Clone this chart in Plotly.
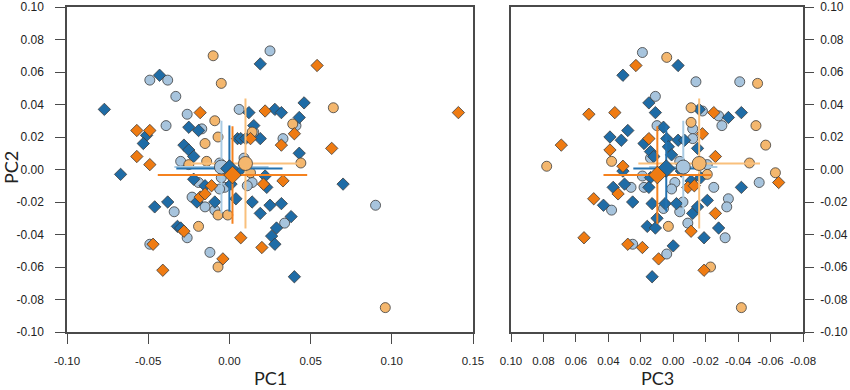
import plotly.graph_objects as go

# ---------------- data ----------------
# Left panel (PC1 vs PC2)
L_db_x = [0.019, -0.043, -0.077, 0.012, 0.015, -0.025, -0.019, -0.051, -0.053, 0.005, 0.007, 0.010, 0.019,
          -0.028, -0.025, -0.022, 0.046, 0.028, 0.032, 0.043, 0.043, -0.067, -0.022, -0.015, 0.001, 0.001,
          0.007, -0.046, -0.038, -0.020, -0.009, 0.004, 0.014, 0.019, -0.032, -0.030, 0.022, 0.023, 0.070,
          0.025, 0.032, 0.038, 0.029, 0.026, 0.028, 0.040]
L_db_y = [0.065, 0.058, 0.037, 0.035, 0.027, 0.026, 0.024, 0.021, 0.016, 0.019, 0.019, 0.019, 0.019,
          0.015, 0.012, 0.008, 0.041, 0.037, 0.035, 0.032, 0.010, -0.003, -0.006, -0.010, -0.009, -0.000,
          0.000, -0.023, -0.020, -0.020, -0.020, -0.018, -0.020, -0.027, -0.035, -0.036, -0.004, -0.011, -0.009,
          -0.022, -0.021, -0.029, -0.036, -0.041, -0.046, -0.066]
L_lb_x = [0.025, -0.049, -0.038, -0.033, 0.006, -0.026, -0.017, -0.039, 0.015, 0.033, 0.041, 0.009,
          -0.030, -0.006, -0.005, -0.019, -0.003, -0.006, 0.014, 0.011, -0.023, -0.015, -0.009, -0.034,
          -0.026, -0.049, -0.012, 0.034, 0.090]
L_lb_y = [0.073, 0.055, 0.055, 0.045, 0.037, 0.034, 0.025, 0.027, 0.023, 0.019, 0.027, 0.007,
          0.005, 0.004, -0.005, -0.008, -0.011, -0.012, -0.008, -0.010, -0.017, -0.023, -0.025, -0.026,
          -0.042, -0.046, -0.051, -0.033, -0.022]
L_or_x = [0.054, -0.018, 0.022, -0.057, -0.049, 0.013, -0.057, -0.049, 0.040, 0.032, 0.063, 0.141,
          -0.011, -0.018, -0.015, -0.028, -0.047, 0.007, 0.020, -0.004, -0.041, 0.021, 0.033]
L_or_y = [0.064, 0.035, 0.036, 0.024, 0.024, 0.019, 0.008, 0.003, 0.022, 0.015, 0.013, 0.035,
          -0.010, -0.017, -0.015, -0.038, -0.046, -0.042, -0.048, -0.055, -0.062, -0.009, -0.007]
L_lo_x = [-0.010, -0.005, -0.009, -0.007, 0.014, -0.015, -0.014, -0.025, 0.064, 0.039, 0.044, 0.013,
          -0.019, -0.007, -0.001, -0.007, 0.096]
L_lo_y = [0.070, 0.053, 0.030, 0.020, 0.023, 0.016, 0.005, 0.003, 0.038, 0.028, 0.004, -0.002,
          -0.035, -0.028, -0.028, -0.060, -0.085]

# Right panel (PC3 vs PC2)
R_db_x = [0.031, -0.003, 0.015, 0.011, 0.006, 0.028, 0.039, 0.032, 0.018, 0.014, 0.012, -0.016, -0.034,
          -0.042, 0.004, 0.003, -0.003, -0.007, 0.001, -0.015, 0.031, 0.037, 0.030, 0.014, 0.015, 0.043,
          0.025, 0.013, 0.005, -0.002, 0.010, 0.016, 0.011, 0.013, -0.005, -0.017, -0.021, -0.012, -0.015,
          -0.042, -0.028, -0.019, 0.000, -0.011]
R_db_y = [0.058, 0.064, 0.041, 0.035, 0.026, 0.024, 0.020, 0.018, 0.016, 0.011, 0.008, 0.037, 0.032,
          0.035, 0.019, 0.014, 0.018, 0.018, 0.009, 0.013, -0.001, -0.011, -0.009, -0.005, -0.011, -0.022,
          -0.020, -0.021, -0.021, -0.021, -0.030, -0.035, -0.036, -0.066, -0.001, -0.005, -0.019, -0.027, -0.023,
          -0.011, -0.036, -0.042, -0.047, -0.007]
R_lb_x = [0.019, 0.011, -0.014, -0.041, -0.018, -0.028, -0.030, -0.012, 0.010, -0.012, 0.014, -0.004,
          -0.021, 0.019, 0.018, 0.026, 0.038, -0.001, 0.001, -0.025, -0.053, -0.034, -0.033, -0.006,
          -0.004, 0.006, -0.009, -0.032, 0.025, 0.004]
R_lb_y = [0.072, 0.045, 0.054, 0.054, 0.036, 0.033, 0.027, 0.025, 0.027, 0.019, 0.007, 0.005,
          0.003, -0.004, -0.011, -0.011, -0.025, -0.008, -0.012, -0.011, -0.008, -0.018, -0.023, -0.020,
          -0.026, -0.024, -0.033, -0.042, -0.046, -0.052]
R_or_x = [0.023, 0.052, 0.036, 0.015, 0.069, 0.039, 0.031, -0.025, -0.018, -0.026, -0.065, -0.009,
          -0.013, -0.026, -0.011, -0.019, 0.034, 0.049, 0.055, 0.028, 0.019, 0.009]
R_or_y = [0.064, 0.034, 0.035, 0.019, 0.015, 0.012, 0.002, 0.035, 0.022, 0.008, -0.008, -0.011,
          -0.010, -0.027, -0.038, -0.062, -0.015, -0.018, -0.042, -0.046, -0.048, -0.055]
R_lo_x = [0.004, -0.052, -0.011, -0.011, -0.051, -0.057, -0.047, -0.063, 0.078, 0.038, -0.021, 0.003,
          -0.023, -0.042]
R_lo_y = [0.069, 0.053, 0.038, 0.029, 0.027, 0.015, 0.004, -0.002, 0.002, 0.005, -0.003, -0.035,
          -0.060, -0.085]

# Group means and standard deviations (PC2 shared)
groups = ["lb", "db", "lo", "or"]
pc2_mean = {"lb": 0.0015, "db": 0.0006, "lo": 0.0037, "or": -0.0034}
pc2_sd = {"lb": 0.0285, "db": 0.0265, "lo": 0.0400, "or": 0.0300}
pc1_mean = {"lb": -0.0049, "db": 0.0000, "lo": 0.0099, "or": 0.0019}
pc1_sd = {"lb": 0.0290, "db": 0.0327, "lo": 0.0336, "or": 0.0460}
pc3_mean = {"lb": -0.0062, "db": 0.0043, "lo": -0.0160, "or": 0.0098}
pc3_sd = {"lb": 0.0210, "db": 0.0203, "lo": 0.0375, "or": 0.0332}

# Tick values and labels
pc1_ticks = [-0.10, -0.05, 0.0, 0.05, 0.10, 0.15]
pc1_ticktext = ["-0.10", "-0.05", "0.00", "0.05", "0.10", "0.15"]
pc3_ticks = [0.10, 0.08, 0.06, 0.04, 0.02, 0.0, -0.02, -0.04, -0.06, -0.08]
pc3_ticktext = ["0.10", "0.08", "0.06", "0.04", "0.02", "0.00", "-0.02", "-0.04", "-0.06", "-0.08"]
pc2_ticks = [0.10, 0.08, 0.06, 0.04, 0.02, 0.0, -0.02, -0.04, -0.06, -0.08, -0.10]
pc2_ticktext = ["0.10", "0.08", "0.06", "0.04", "0.02", "0.00", "-0.02", "-0.04", "-0.06", "-0.08", "-0.10"]

# ---------------- styles ----------------
fill = {"lb": "#a7c4dd", "db": "#1f6ca6", "lo": "#f4b76e", "or": "#ef7b12"}
linec = {"lb": "#a9cbe3", "db": "#2372b0", "lo": "#f9c07c", "or": "#f5821f"}
symbol = {"lb": "circle", "db": "diamond", "lo": "circle", "or": "diamond"}
size = {"lb": 10, "db": 9.5, "lo": 10, "or": 9.5}
edge = dict(color="#3c3c3c", width=0.8)

fig = go.Figure()

pts = {
    "x": {"lb": L_lb_x, "db": L_db_x, "lo": L_lo_x, "or": L_or_x},
    "y": {"lb": L_lb_y, "db": L_db_y, "lo": L_lo_y, "or": L_or_y},
    "x2": {"lb": R_lb_x, "db": R_db_x, "lo": R_lo_x, "or": R_or_x},
    "y2": {"lb": R_lb_y, "db": R_db_y, "lo": R_lo_y, "or": R_or_y},
}

for xk, yk, mx, sx in [("x", "y", pc1_mean, pc1_sd), ("x2", "y2", pc3_mean, pc3_sd)]:
    for g in groups:
        fig.add_trace(go.Scatter(
            x=pts[xk][g], y=pts[yk][g], mode="markers", xaxis=xk, yaxis=yk,
            marker=dict(symbol=symbol[g], size=size[g], color=fill[g], line=edge),
            showlegend=False, hoverinfo="skip"))
    for g in groups:
        fig.add_trace(go.Scatter(
            x=[mx[g] - sx[g], mx[g] + sx[g], None, mx[g], mx[g]],
            y=[pc2_mean[g], pc2_mean[g], None, pc2_mean[g] - pc2_sd[g], pc2_mean[g] + pc2_sd[g]],
            mode="lines", xaxis=xk, yaxis=yk, line=dict(color=linec[g], width=2),
            showlegend=False, hoverinfo="skip"))
    for g in groups:
        fig.add_trace(go.Scatter(
            x=[mx[g]], y=[pc2_mean[g]], mode="markers", xaxis=xk, yaxis=yk,
            marker=dict(symbol=symbol[g], size=size[g] + 4, color=fill[g], line=edge),
            showlegend=False, hoverinfo="skip"))

W, H = 850, 390


def px_x(p):
    return p / W


def px_y(p):
    return 1 - p / H


axcol = "#4a4a4a"
xtickfont = dict(family="Liberation Sans Narrow, Arial Narrow, Liberation Sans", size=11.5, color="#222")
ytickfont = dict(family="Liberation Sans, Arial", size=12, color="#222")
titlefont = dict(family="Lato, Open Sans", size=18, color="#222")

common = dict(showgrid=False, zeroline=False, showline=True, linecolor=axcol, linewidth=1.5,
              mirror=True, ticks="outside", tickcolor=axcol, tickwidth=1.2, automargin=False,
              tickangle=0)

ydom = [px_y(332), px_y(7)]

fig.update_layout(
    width=W, height=H, margin=dict(l=0, r=0, t=0, b=0),
    paper_bgcolor="white", plot_bgcolor="white",
    xaxis=dict(domain=[px_x(67), px_x(473)], range=[-0.10, 0.15], tickvals=pc1_ticks, ticktext=pc1_ticktext,
               ticklen=10, tickfont=xtickfont, ticklabelstandoff=7, anchor="y", **common),
    yaxis=dict(domain=ydom, range=[-0.10, 0.10], tickvals=pc2_ticks,
               ticktext=pc2_ticktext, ticklen=10, tickfont=ytickfont, ticklabelstandoff=9,
               anchor="x", **common),
    xaxis2=dict(domain=[px_x(511), px_x(803)], range=[0.10, -0.08], tickvals=pc3_ticks, ticktext=pc3_ticktext,
                ticklen=8, tickfont=xtickfont, ticklabelstandoff=9, anchor="y2", **common),
    yaxis2=dict(domain=ydom, range=[-0.10, 0.10], tickvals=pc2_ticks,
                ticktext=pc2_ticktext, ticklen=9, tickfont=ytickfont, ticklabelstandoff=4,
                side="right", anchor="x2", **common),
    annotations=[
        dict(text="PC1", x=px_x(270), y=px_y(378), xref="paper", yref="paper", showarrow=False,
             xanchor="center", yanchor="middle", font=titlefont),
        dict(text="PC3", x=px_x(657), y=px_y(378), xref="paper", yref="paper", showarrow=False,
             xanchor="center", yanchor="middle", font=titlefont),
        dict(text="PC2", x=px_x(11), y=px_y(168), xref="paper", yref="paper", showarrow=False,
             xanchor="center", yanchor="middle", textangle=-90, font=titlefont),
    ],
)

# Remove the browser's default 8px page margin so the figure sits at the window's corner.
fig.write_html("out.html", config={"displayModeBar": False},
               post_script="document.body.style.margin='0';")
